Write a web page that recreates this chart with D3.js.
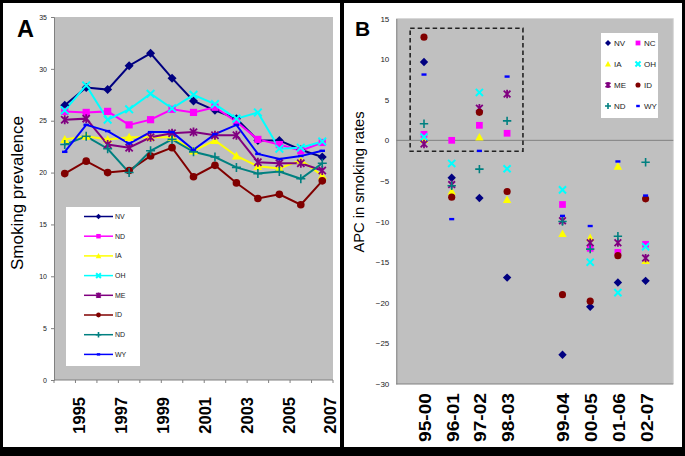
<!DOCTYPE html>
<html><head><meta charset="utf-8">
<script src="https://cdn.jsdelivr.net/npm/d3@7"></script>
<style>
body{margin:0;background:#fff}
svg{display:block}
text{font-family:"Liberation Sans",Arial,Helvetica,sans-serif}
</style>
</head><body>
<svg id="c" width="685" height="456"></svg>
<script>
// ---------- Panel A data ----------
const years = ["1995","1996","1997","1998","1999","2000","2001","2002","2003","2004","2005","2006","2007"];
const yearLabels = ["1995","1997","1999","2001","2003","2005","2007"];
const prevTicks = [0,5,10,15,20,25,30,35];
const prevNV  = [26.5,28.2,28.0,30.3,31.5,29.1,26.9,26.0,25.2,23.1,23.1,22.2,21.5];
const prevND1 = [25.9,25.8,25.9,24.6,25.1,26.1,25.8,26.3,24.9,23.2,22.7,22.1,22.9];
const prevIA  = [23.2,23.5,23.2,23.4,23.4,23.4,22.1,23.1,21.6,20.6,20.4,21.2,19.7];
const prevOH  = [26.0,28.4,25.1,26.1,27.6,26.2,27.5,26.6,25.2,25.8,22.3,22.4,23.0];
const prevME  = [25.1,25.2,22.7,22.4,23.4,23.8,23.9,23.6,23.6,21.0,20.9,20.9,20.2];
const prevID  = [19.9,21.1,20.0,20.2,21.6,22.4,19.6,20.7,19.0,17.5,17.9,16.9,19.2];
const prevND2 = [22.7,23.5,22.3,20.0,22.1,23.2,22.0,21.5,20.5,19.9,20.1,19.4,20.9];
const prevWY  = [22.0,24.6,24.0,22.8,23.9,23.9,22.2,23.7,24.6,21.8,21.3,21.6,22.1];
const legendA = ["NV","ND","IA","OH","ME","ID","ND","WY"];

// ---------- Panel B data ----------
const periods = ["95-00","96-01","97-02","98-03","99-04","00-05","01-06","02-07"];
const apcTicks = [15,10,5,0,-5,-10,-15,-20,-25,-30];
const apcNV = [9.65,-4.6,-7.1,-16.9,-26.4,-20.5,-17.5,-17.3];
const apcNC = [0.74,0.0,1.85,0.87,-7.9,-13.3,-13.8,-12.8];
const apcIA = [0.1,-6.3,0.4,-7.3,-11.5,-12.0,-3.2,-14.8];
const apcOH = [0.4,-2.85,5.9,-3.5,-6.1,-15.0,-18.75,-13.1];
const apcME = [-0.45,-5.45,3.95,5.7,-9.9,-12.6,-12.6,-14.5];
const apcID = [12.7,-7.0,3.45,-6.3,-19.0,-19.8,-14.2,-7.2];
const apcND = [2.05,-5.6,-3.55,2.4,-10.0,-13.4,-11.8,-2.7];
const apcWY = [8.1,-9.7,-1.3,7.85,-9.3,-10.55,-2.6,-6.8];
const legendB = ["NV","NC","IA","OH","ME","ID","ND","WY"];

const colors = ["#000080","#FF00FF","#FFFF00","#00FFFF","#800080","#800000","#008080","#0000FF"];
const shapes = ["diamond","square","triangle","x","asterisk","circle","plus","dash"];

const seriesA = [prevNV,prevND1,prevIA,prevOH,prevME,prevID,prevND2,prevWY].map((v,i)=>({name:legendA[i],values:v,color:colors[i],shape:shapes[i]}));
const seriesB = [apcNV,apcNC,apcIA,apcOH,apcME,apcID,apcND,apcWY].map((v,i)=>({name:legendB[i],values:v,color:colors[i],shape:shapes[i]}));

const svg = d3.select("#c");

// frame
svg.append("rect").attr("x",0).attr("y",0).attr("width",685).attr("height",456).attr("fill","#000");
svg.append("rect").attr("x",3).attr("y",3).attr("width",337).attr("height",444).attr("fill","#fff");
svg.append("rect").attr("x",344).attr("y",3).attr("width",338).attr("height",444).attr("fill","#fff");

function marker(g, shape, color, s){
  if(shape==="diamond"){
    g.append("path").attr("d",`M0,${-s}L${s},0L0,${s}L${-s},0Z`).attr("fill",color);
  } else if(shape==="square"){
    g.append("rect").attr("x",-s*0.8).attr("y",-s*0.8).attr("width",s*1.6).attr("height",s*1.6).attr("fill",color);
  } else if(shape==="triangle"){
    g.append("path").attr("d",`M0,${-s}L${s},${s*0.8}L${-s},${s*0.8}Z`).attr("fill",color);
  } else if(shape==="circle"){
    g.append("circle").attr("r",s*0.85).attr("fill",color);
  } else if(shape==="x"){
    const k=s*0.85;
    g.append("path").attr("d",`M${-k},${-k}L${k},${k}M${-k},${k}L${k},${-k}`).attr("stroke",color).attr("stroke-width",2).attr("fill","none");
  } else if(shape==="asterisk"){
    const k=s*0.8;
    g.append("path").attr("d",`M${-k},${-k}L${k},${k}M${-k},${k}L${k},${-k}M0,${-s}L0,${s}`).attr("stroke",color).attr("stroke-width",1.8).attr("fill","none");
  } else if(shape==="plus"){
    g.append("path").attr("d",`M${-s},0L${s},0M0,${-s}L0,${s}`).attr("stroke",color).attr("stroke-width",1.6).attr("fill","none");
  } else if(shape==="dash"){
    g.append("rect").attr("x",-s*0.6).attr("y",-1.2).attr("width",s*1.2).attr("height",2.4).attr("fill",color);
  }
}

// ================= Panel A =================
const A = {l:54, r:333, t:17, b:380};
const xA = d3.scaleBand().domain(years).range([A.l, A.r]).paddingInner(0).paddingOuter(0);
const yA = d3.scaleLinear().domain([0,35]).range([A.b, A.t]);
const xLabA = d3.scalePoint().domain(yearLabels).range([79, 330.5]);

svg.append("rect").attr("x",A.l).attr("y",A.t).attr("width",A.r-A.l).attr("height",A.b-A.t).attr("fill","#C0C0C0");

const gyA = svg.append("g").attr("transform",`translate(${A.l},0)`)
  .call(d3.axisLeft(yA).tickValues(prevTicks).tickSize(3).tickPadding(4));
gyA.select(".domain").attr("stroke","#808080");
gyA.selectAll(".tick line").attr("stroke","#808080");
gyA.selectAll(".tick text").attr("font-size",7).attr("fill","#222").attr("font-family","Liberation Sans, Arial, sans-serif");

svg.append("line").attr("x1",A.l).attr("x2",A.r).attr("y1",A.b).attr("y2",A.b).attr("stroke","#808080");
const boundaries = years.map(y=>xA(y)).concat([xA(years[years.length-1])+xA.bandwidth()]);
svg.append("g").selectAll("line").data(boundaries).join("line")
  .attr("x1",d=>d).attr("x2",d=>d).attr("y1",A.b).attr("y2",A.b+3).attr("stroke","#808080");

svg.append("g").selectAll("text").data(yearLabels).join("text")
  .attr("transform",d=>`translate(${xLabA(d)},397) rotate(-90)`)
  .attr("text-anchor","end").attr("dy","0.36em")
  .attr("font-size",16.5).attr("font-weight","bold").attr("fill","#000").text(d=>d);

svg.append("text").attr("transform","translate(17,193) rotate(-90)")
  .attr("text-anchor","middle").attr("dy","0.36em").attr("font-size",17).attr("fill","#000").text("Smoking prevalence");

svg.append("text").attr("x",17).attr("y",37).attr("font-size",23.5).attr("font-weight","bold").text("A");

const line = d3.line().x((d,i)=>xA(years[i])+xA.bandwidth()/2).y(d=>yA(d));
const gA = svg.append("g");
seriesA.forEach(s=>{
  gA.append("path").attr("d",line(s.values)).attr("fill","none").attr("stroke",s.color).attr("stroke-width",2);
});
seriesA.forEach(s=>{
  s.values.forEach((v,i)=>{
    const g = gA.append("g").attr("transform",`translate(${xA(years[i])+xA.bandwidth()/2},${yA(v)})`);
    marker(g, s.shape, s.color, 4.5);
  });
});

const LA = {x:66, y:207, w:74, h:159};
svg.append("rect").attr("x",LA.x).attr("y",LA.y).attr("width",LA.w).attr("height",LA.h).attr("fill","#fff");
seriesA.forEach((s,i)=>{
  const yy = LA.y + 9.5 + i*19.7;
  svg.append("line").attr("x1",84).attr("x2",113).attr("y1",yy).attr("y2",yy).attr("stroke",s.color).attr("stroke-width",1.5);
  const g = svg.append("g").attr("transform",`translate(98.5,${yy})`);
  marker(g, s.shape, s.color, 2.8);
  svg.append("text").attr("x",115).attr("y",yy).attr("dy","0.35em").attr("font-size",7).attr("fill","#222").text(s.name);
});

// ================= Panel B =================
const B = {l:396.3, r:673.3, t:18.5, b:384};
const slots = ["_start"].concat(periods.slice(0,4),["_gap"],periods.slice(4),["_end"]);
const xB = d3.scalePoint().domain(slots).range([B.l, B.r]);
const yB = d3.scaleLinear().domain([-30,15]).range([B.b, B.t]);

svg.append("rect").attr("x",B.l).attr("y",B.t).attr("width",B.r-B.l).attr("height",B.b-B.t).attr("fill","#C0C0C0");
svg.append("line").attr("x1",B.r).attr("x2",B.r).attr("y1",B.t).attr("y2",B.b).attr("stroke","#d8d8d8");
svg.append("line").attr("x1",B.l).attr("x2",B.r).attr("y1",B.t).attr("y2",B.t).attr("stroke","#d8d8d8");

const gyB = svg.append("g").attr("transform",`translate(${B.l},0)`)
  .call(d3.axisLeft(yB).tickValues(apcTicks).tickSize(0).tickPadding(7));
gyB.select(".domain").attr("stroke","#808080");
gyB.selectAll(".tick text").attr("font-size",8).attr("fill","#222").attr("font-family","Liberation Sans, Arial, sans-serif");

svg.append("line").attr("x1",B.l).attr("x2",B.r).attr("y1",B.b).attr("y2",B.b).attr("stroke","#808080");
svg.append("line").attr("x1",B.l).attr("x2",B.r).attr("y1",yB(0)).attr("y2",yB(0)).attr("stroke","#808080");

const bx0 = (xB("_start")+xB(periods[0]))/2, bx1 = (xB(periods[3])+xB("_gap"))/2 + 2;
svg.append("rect").attr("x",bx0).attr("y",yB(13.8)).attr("width",bx1-bx0).attr("height",yB(-1.35)-yB(13.8))
  .attr("fill","none").attr("stroke","#222").attr("stroke-width",1.6).attr("stroke-dasharray","4.5,3");

const gB = svg.append("g");
seriesB.forEach(s=>{
  s.values.forEach((v,i)=>{
    const g = gB.append("g").attr("transform",`translate(${xB(periods[i])},${yB(v)})`);
    marker(g, s.shape, s.color, 4.2);
  });
});

svg.append("g").selectAll("text").data(periods).join("text")
  .attr("transform",d=>`translate(${xB(d)+1},393) rotate(-90)`)
  .attr("text-anchor","end").attr("dy","0.36em")
  .attr("font-size",16.5).attr("font-weight","bold").attr("fill","#000")
  .attr("textLength",49).attr("lengthAdjust","spacingAndGlyphs").text(d=>d);

svg.append("text").attr("transform","translate(359,182) rotate(-90)")
  .attr("text-anchor","middle").attr("dy","0.36em").attr("font-size",14.7).attr("fill","#000").text("APC in smoking rates");

svg.append("text").attr("x",355).attr("y",36).attr("font-size",21).attr("font-weight","bold").text("B");

const LB = {x:601, y:33, w:57, h:85};
svg.append("rect").attr("x",LB.x).attr("y",LB.y).attr("width",LB.w).attr("height",LB.h).attr("fill","#fff");
seriesB.forEach((s,i)=>{
  const col = i%2, row = Math.floor(i/2);
  const mx = col===0 ? 608 : 638;
  const yy = 43 + row*21;
  const g = svg.append("g").attr("transform",`translate(${mx},${yy})`);
  marker(g, s.shape, s.color, 3);
  svg.append("text").attr("x",mx+6).attr("y",yy).attr("dy","0.35em").attr("font-size",8).attr("fill","#222").text(s.name);
});
</script>
</body></html>
